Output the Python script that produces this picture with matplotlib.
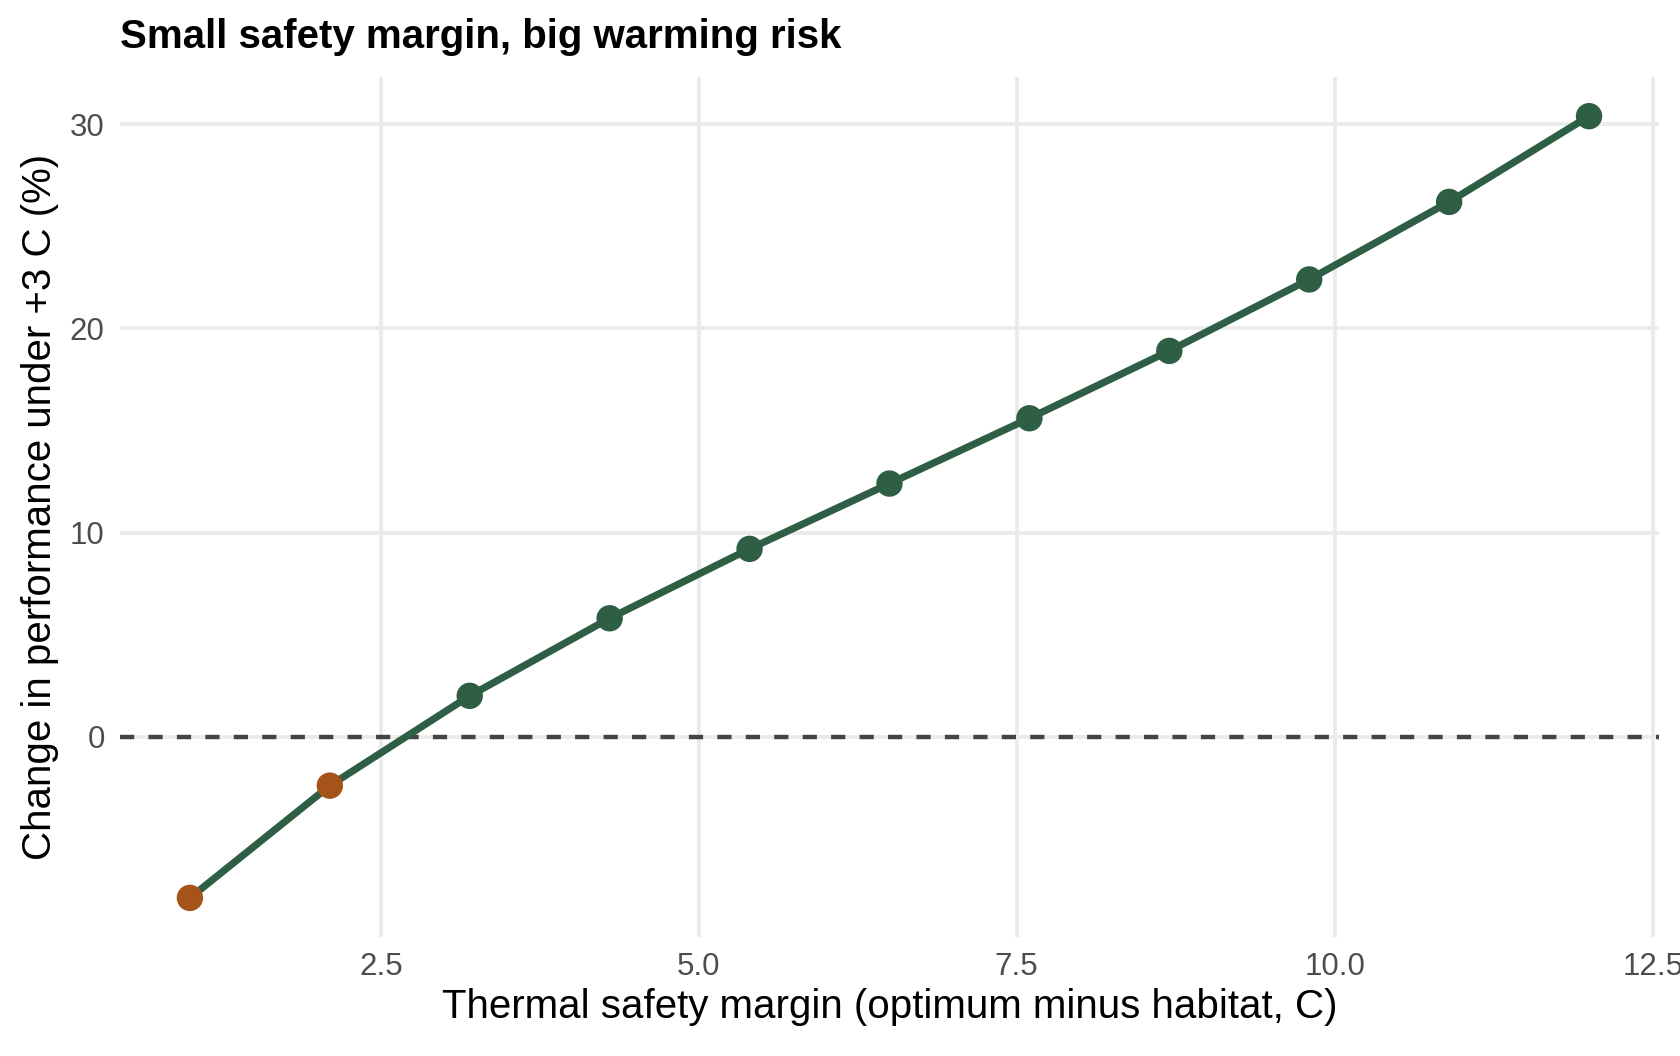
import numpy as np
import matplotlib
matplotlib.use("Agg")
import matplotlib.pyplot as plt
from matplotlib.ticker import FormatStrFormatter

plt.rcParams['font.family'] = ['Liberation Sans', 'DejaVu Sans']

# Data
margin = [1.0, 2.1, 3.2, 4.3, 5.4, 6.5, 7.6, 8.7, 9.8, 10.9, 12.0]
perf_change = [-7.9, -2.4, 2.0, 5.8, 9.2, 12.4, 15.6, 18.9, 22.4, 26.2, 30.4]
x_ticks = [2.5, 5.0, 7.5, 10.0, 12.5]
y_ticks = [0, 10, 20, 30]

green = '#2E5E44'
orange = '#A5521B'

fig = plt.figure(figsize=(16.8, 10.56), dpi=100)
ax = fig.add_axes([0.0714, 0.1127, 0.9161, 0.8143])

# Grid like theme_minimal (major only)
ax.set_axisbelow(True)
ax.grid(True, color='#EBEBEB', linewidth=2.8)
for s in ax.spines.values():
    s.set_visible(False)

ax.axhline(0, color='#444444', linewidth=3.2, linestyle=(0, (3.2, 3.2)), zorder=1.5)
ax.plot(margin, perf_change, color=green, linewidth=5.2, zorder=2, solid_capstyle='butt')
pt_colors = [orange if v < 0 else green for v in perf_change]
ax.scatter(margin, perf_change, s=19 ** 2, c=pt_colors, zorder=3, linewidths=0)

# ggplot-style 5% expansion
xr = max(margin) - min(margin)
yr = max(perf_change) - min(perf_change)
ax.set_xlim(min(margin) - 0.05 * xr, max(margin) + 0.05 * xr)
ax.set_ylim(min(perf_change) - 0.05 * yr, max(perf_change) + 0.05 * yr)

ax.set_xticks(x_ticks)
ax.set_yticks(y_ticks)
ax.xaxis.set_major_formatter(FormatStrFormatter('%.1f'))
ax.tick_params(length=0, labelsize=22.5, labelcolor='#4D4D4D', pad=11)

ax.set_xlabel('Thermal safety margin (optimum minus habitat, C)', fontsize=29, labelpad=4)
ax.set_ylabel('Change in performance under +3 C (%)', fontsize=29, labelpad=8)

fig.text(0.0714, 0.965, 'Small safety margin, big warming risk',
         fontsize=29, fontweight='bold', ha='left', va='center')

fig.savefig('out.png', dpi=100)
